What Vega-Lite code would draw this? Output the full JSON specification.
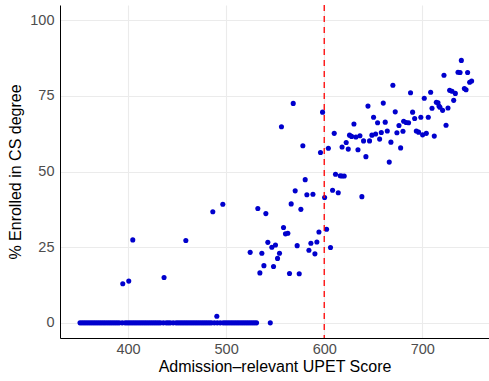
{
  "$schema": "https://vega.github.io/schema/vega-lite/v6.json",
  "width": 429,
  "height": 333,
  "autosize": {"type": "none"},
  "padding": {"left": 60, "top": 5, "right": 0, "bottom": 43},
  "config": {
    "view": {"stroke": null},
    "font": "Liberation Sans",
    "axis": {
      "grid": true,
      "gridColor": "#EBEBEB",
      "gridWidth": 1.1,
      "domain": true,
      "domainColor": "#000000",
      "domainWidth": 1,
      "ticks": false,
      "tickSize": 0,
      "labelColor": "#4D4D4D",
      "labelFont": "Liberation Sans",
      "labelFontSize": 14.5,
      "titleFont": "Liberation Sans",
      "titleFontSize": 16,
      "titleFontWeight": "normal",
      "titleColor": "#000000"
    }
  },
  "layer": [
    {
      "data": {
        "values": [
          {"score": 351, "pct": 0}, {"score": 353, "pct": 0}, {"score": 355, "pct": 0}, {"score": 357, "pct": 0}, {"score": 359, "pct": 0},
          {"score": 361, "pct": 0}, {"score": 363, "pct": 0}, {"score": 365, "pct": 0}, {"score": 367, "pct": 0}, {"score": 369, "pct": 0},
          {"score": 371, "pct": 0}, {"score": 373, "pct": 0}, {"score": 375, "pct": 0}, {"score": 377, "pct": 0}, {"score": 379, "pct": 0},
          {"score": 381, "pct": 0}, {"score": 383, "pct": 0}, {"score": 385, "pct": 0}, {"score": 387, "pct": 0}, {"score": 389, "pct": 0},
          {"score": 391, "pct": 0}, {"score": 394, "pct": 0}, {"score": 397, "pct": 0}, {"score": 399, "pct": 0},
          {"score": 401, "pct": 0}, {"score": 403, "pct": 0}, {"score": 405, "pct": 0}, {"score": 407, "pct": 0}, {"score": 409, "pct": 0},
          {"score": 411, "pct": 0}, {"score": 413, "pct": 0}, {"score": 415, "pct": 0}, {"score": 417, "pct": 0}, {"score": 419, "pct": 0},
          {"score": 421, "pct": 0}, {"score": 423, "pct": 0}, {"score": 425, "pct": 0}, {"score": 427, "pct": 0}, {"score": 429, "pct": 0},
          {"score": 431, "pct": 0}, {"score": 433, "pct": 0}, {"score": 436, "pct": 0}, {"score": 439, "pct": 0},
          {"score": 441, "pct": 0}, {"score": 443, "pct": 0}, {"score": 446, "pct": 0}, {"score": 449, "pct": 0},
          {"score": 451, "pct": 0}, {"score": 453, "pct": 0}, {"score": 455, "pct": 0}, {"score": 457, "pct": 0}, {"score": 459, "pct": 0},
          {"score": 461, "pct": 0}, {"score": 463, "pct": 0}, {"score": 465, "pct": 0}, {"score": 467, "pct": 0}, {"score": 469, "pct": 0},
          {"score": 471, "pct": 0}, {"score": 473, "pct": 0}, {"score": 475, "pct": 0}, {"score": 477, "pct": 0}, {"score": 479, "pct": 0},
          {"score": 481, "pct": 0}, {"score": 483, "pct": 0}, {"score": 485, "pct": 0}, {"score": 488, "pct": 0}, {"score": 491, "pct": 0},
          {"score": 494, "pct": 0}, {"score": 497, "pct": 0}, {"score": 499, "pct": 0},
          {"score": 501, "pct": 0}, {"score": 503, "pct": 0}, {"score": 505, "pct": 0}, {"score": 507, "pct": 0}, {"score": 509, "pct": 0},
          {"score": 511, "pct": 0}, {"score": 513, "pct": 0}, {"score": 515, "pct": 0}, {"score": 517, "pct": 0}, {"score": 519, "pct": 0},
          {"score": 521, "pct": 0}, {"score": 523, "pct": 0}, {"score": 525, "pct": 0}, {"score": 527, "pct": 0}, {"score": 529, "pct": 0},
          {"score": 531, "pct": 0}, {"score": 545, "pct": 0},
          {"score": 394.6, "pct": 12.9}, {"score": 400.7, "pct": 13.8}, {"score": 404.8, "pct": 27.4}, {"score": 436.7, "pct": 15.0},
          {"score": 458.9, "pct": 27.2}, {"score": 486.4, "pct": 36.7}, {"score": 490.5, "pct": 2.2}, {"score": 496.6, "pct": 39.2},
          {"score": 524.5, "pct": 23.3}, {"score": 532.3, "pct": 37.8}, {"score": 534.4, "pct": 16.5}, {"score": 536.4, "pct": 23.0},
          {"score": 538.5, "pct": 18.9}, {"score": 540.5, "pct": 36.1}, {"score": 542.5, "pct": 26.6}, {"score": 546.6, "pct": 25.0},
          {"score": 548.3, "pct": 18.6}, {"score": 550.3, "pct": 25.7}, {"score": 552.4, "pct": 21.3}, {"score": 554.4, "pct": 23.0},
          {"score": 556.4, "pct": 64.8}, {"score": 558.5, "pct": 31.5}, {"score": 560.5, "pct": 29.4}, {"score": 562.9, "pct": 29.6},
          {"score": 564.6, "pct": 16.3}, {"score": 566.3, "pct": 39.3}, {"score": 568.4, "pct": 72.5}, {"score": 570.4, "pct": 43.6},
          {"score": 572.4, "pct": 25.5}, {"score": 574.5, "pct": 16.2}, {"score": 576.2, "pct": 37.5}, {"score": 578.2, "pct": 58.5},
          {"score": 580.6, "pct": 47.3}, {"score": 582.3, "pct": 42.3}, {"score": 584.4, "pct": 24.0}, {"score": 586.4, "pct": 26.3},
          {"score": 588.5, "pct": 42.5}, {"score": 590.5, "pct": 22.8}, {"score": 592.5, "pct": 26.7}, {"score": 594.6, "pct": 30.0},
          {"score": 596.2, "pct": 56.3}, {"score": 598.3, "pct": 69.6}, {"score": 600.4, "pct": 41.4}, {"score": 602.4, "pct": 30.9},
          {"score": 604.2, "pct": 57.7}, {"score": 606.4, "pct": 24.9}, {"score": 608.5, "pct": 43.8}, {"score": 610.2, "pct": 62.6},
          {"score": 611.5, "pct": 49.1}, {"score": 614.3, "pct": 43.0}, {"score": 616.3, "pct": 48.6}, {"score": 618.2, "pct": 58.1},
          {"score": 618.0, "pct": 48.5}, {"score": 620.4, "pct": 48.5}, {"score": 622.4, "pct": 59.6}, {"score": 624.5, "pct": 57.4},
          {"score": 625.8, "pct": 62.0}, {"score": 627.9, "pct": 61.6}, {"score": 630.3, "pct": 65.7}, {"score": 632.3, "pct": 61.4},
          {"score": 634.4, "pct": 57.2}, {"score": 636.4, "pct": 61.8}, {"score": 638.4, "pct": 41.7}, {"score": 640.1, "pct": 60.1},
          {"score": 642.5, "pct": 54.9}, {"score": 644.6, "pct": 71.6}, {"score": 646.2, "pct": 60.1}, {"score": 648.6, "pct": 62.0},
          {"score": 650.3, "pct": 67.9}, {"score": 652.4, "pct": 62.4}, {"score": 654.4, "pct": 66.1}, {"score": 656.5, "pct": 60.7},
          {"score": 658.2, "pct": 62.9}, {"score": 660.2, "pct": 72.6}, {"score": 662.2, "pct": 66.3}, {"score": 664.3, "pct": 63.4},
          {"score": 666.3, "pct": 53.1}, {"score": 668.0, "pct": 59.7}, {"score": 670.0, "pct": 78.5}, {"score": 672.4, "pct": 69.7},
          {"score": 674.1, "pct": 62.8}, {"score": 676.2, "pct": 65.2}, {"score": 677.9, "pct": 57.8}, {"score": 680.3, "pct": 63.3},
          {"score": 681.0, "pct": 66.6}, {"score": 683.5, "pct": 66.2}, {"score": 686.0, "pct": 66.1}, {"score": 688.0, "pct": 76.0},
          {"score": 690.1, "pct": 69.6}, {"score": 692.2, "pct": 67.5}, {"score": 693.9, "pct": 63.4}, {"score": 696.2, "pct": 63.0},
          {"score": 698.5, "pct": 67.9}, {"score": 700.3, "pct": 62.1}, {"score": 702.0, "pct": 74.2}, {"score": 704.1, "pct": 62.6},
          {"score": 706.1, "pct": 67.9}, {"score": 708.5, "pct": 76.2}, {"score": 709.9, "pct": 70.9}, {"score": 712.2, "pct": 61.7},
          {"score": 714.3, "pct": 72.9}, {"score": 716.0, "pct": 72.7}, {"score": 717.0, "pct": 71.6}, {"score": 718.0, "pct": 71.2},
          {"score": 720.7, "pct": 70.2}, {"score": 722.1, "pct": 81.8}, {"score": 724.2, "pct": 65.3}, {"score": 726.2, "pct": 71.0},
          {"score": 727.9, "pct": 76.8}, {"score": 730.3, "pct": 76.5}, {"score": 732.0, "pct": 73.5}, {"score": 733.7, "pct": 75.8},
          {"score": 736.4, "pct": 82.8}, {"score": 738.5, "pct": 82.7}, {"score": 739.8, "pct": 86.7}, {"score": 742.9, "pct": 77.4},
          {"score": 744.6, "pct": 77.0}, {"score": 746.2, "pct": 82.7}, {"score": 748.3, "pct": 79.5}, {"score": 750.3, "pct": 79.9}
        ]
      },
      "mark": {"type": "circle", "size": 26, "color": "#0000CD", "opacity": 1},
      "encoding": {
        "x": {
          "field": "score",
          "type": "quantitative",
          "scale": {"domain": [330.6, 768], "nice": false, "zero": false},
          "axis": {"values": [400, 500, 600, 700], "title": "Admission–relevant UPET Score", "labelPadding": 4, "titlePadding": 3}
        },
        "y": {
          "field": "pct",
          "type": "quantitative",
          "scale": {"domain": [-5, 105], "nice": false, "zero": false},
          "axis": {"values": [0, 25, 50, 75, 100], "title": "% Enrolled in CS degree", "labelPadding": 6, "titlePadding": 6}
        }
      }
    },
    {
      "data": {"values": [{"cutoff": 600}]},
      "mark": {"type": "rule", "color": "#FF0000", "strokeDash": [6, 5], "strokeWidth": 1.3},
      "encoding": {"x": {"field": "cutoff", "type": "quantitative"}}
    }
  ]
}
